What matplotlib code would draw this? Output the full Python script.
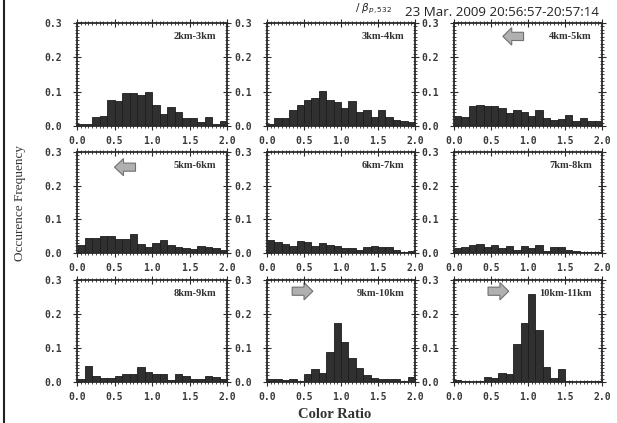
import numpy as np
import matplotlib
matplotlib.use('Agg')
from matplotlib import pyplot as plt
from matplotlib.ticker import MultipleLocator
from matplotlib.lines import Line2D
from matplotlib.patches import FancyArrow

# bin edges of every histogram: 0.0 .. 2.0 step 0.1
bin_left = [round(0.1 * i, 1) for i in range(20)]

labels = ['2km-3km', '3km-4km', '4km-5km',
          '5km-6km', '6km-7km', '7km-8km',
          '8km-9km', '9km-10km', '10km-11km']

h_2_3 = [0.006, 0.006, 0.026, 0.030, 0.075, 0.072, 0.095, 0.095, 0.090, 0.100,
         0.062, 0.035, 0.054, 0.040, 0.023, 0.022, 0.012, 0.026, 0.007, 0.016]
h_3_4 = [0.006, 0.022, 0.022, 0.046, 0.062, 0.077, 0.083, 0.103, 0.075, 0.069,
         0.052, 0.072, 0.042, 0.046, 0.026, 0.048, 0.027, 0.017, 0.015, 0.011]
h_4_5 = [0.028, 0.025, 0.057, 0.060, 0.059, 0.057, 0.053, 0.037, 0.048, 0.042,
         0.028, 0.048, 0.022, 0.018, 0.020, 0.033, 0.016, 0.022, 0.014, 0.014]
h_5_6 = [0.023, 0.045, 0.045, 0.050, 0.050, 0.041, 0.043, 0.055, 0.026, 0.019,
         0.031, 0.039, 0.023, 0.019, 0.014, 0.012, 0.021, 0.017, 0.015, 0.010]
h_6_7 = [0.039, 0.032, 0.027, 0.021, 0.037, 0.033, 0.021, 0.031, 0.023, 0.021,
         0.014, 0.014, 0.010, 0.019, 0.021, 0.019, 0.017, 0.008, 0.004, 0.006]
h_7_8 = [0.016, 0.017, 0.023, 0.027, 0.017, 0.023, 0.014, 0.021, 0.010, 0.021,
         0.016, 0.023, 0.006, 0.017, 0.019, 0.008, 0.006, 0.002, 0.004, 0.002]
h_8_9 = [0.010, 0.048, 0.017, 0.013, 0.012, 0.017, 0.024, 0.024, 0.043, 0.029,
         0.025, 0.025, 0.007, 0.025, 0.017, 0.010, 0.010, 0.017, 0.016, 0.008]
h_9_10 = [0.010, 0.010, 0.006, 0.010, 0.002, 0.024, 0.037, 0.027, 0.087, 0.173,
          0.117, 0.070, 0.041, 0.021, 0.012, 0.010, 0.010, 0.010, 0.004, 0.014]
h_10_11 = [0.006, 0.002, 0.000, 0.002, 0.014, 0.012, 0.027, 0.023, 0.112, 0.173,
           0.258, 0.153, 0.045, 0.012, 0.037, 0.002, 0.000, 0.002, 0.002, 0.004]
hists = [h_2_3, h_3_4, h_4_5, h_5_6, h_6_7, h_7_8, h_8_9, h_9_10, h_10_11]

# arrows: panel index -> (x centre, y centre, direction)
arrows = {2: (0.40, 0.87, -1), 3: (0.32, 0.85, -1), 7: (0.24, 0.89, 1), 8: (0.30, 0.89, 1)}

W, H = 617, 423
fig = plt.figure(figsize=(W / 100, H / 100), dpi=100)
fig.patch.set_facecolor('white')

col_left = [77, 267, 454]
col_w = [150, 148, 148]
row_top = [23, 152, 280]
row_bot = [126, 253, 382]

tickfont = dict(family='DejaVu Sans Mono', weight='bold', size=7)
ink = '#2a2a2a'

for k in range(9):
    r, c = divmod(k, 3)
    ax = fig.add_axes([col_left[c] / W, 1 - row_bot[r] / H,
                       col_w[c] / W, (row_bot[r] - row_top[r]) / H])
    ax.bar(bin_left, hists[k], width=0.1, align='edge', color='#303030',
           edgecolor='#1c1c1c', linewidth=0.6)
    ax.set_xlim(0, 2.0)
    ax.set_ylim(0, 0.3)
    ax.xaxis.set_major_locator(MultipleLocator(0.5))
    ax.xaxis.set_minor_locator(MultipleLocator(0.05))
    ax.yaxis.set_major_locator(MultipleLocator(0.1))
    ax.yaxis.set_minor_locator(MultipleLocator(0.01))
    ax.tick_params(which='both', direction='inout', top=True, right=True, colors=ink, width=0.8)
    ax.tick_params(which='major', length=6)
    ax.tick_params(which='minor', length=2.5, width=0.6)
    ax.tick_params(axis='y', pad=8)
    ax.tick_params(axis='x', pad=4)
    ax.set_xticks([0.0, 0.5, 1.0, 1.5, 2.0])
    ax.set_xticklabels(['0.0', '0.5', '1.0', '1.5', '2.0'], **tickfont, color='#3a3a3a')
    ax.set_yticks([0.0, 0.1, 0.2, 0.3])
    ax.set_yticklabels(['0.0', '0.1', '0.2', '0.3'], **tickfont, color='#3a3a3a')
    for s in ax.spines.values():
        s.set_linewidth(1.3)
        s.set_color(ink)
    ax.text(0.93, 0.87, labels[k], transform=ax.transAxes, ha='right', va='center',
            family='Liberation Serif', weight='bold', fontsize=7.5, color='#333333')
    if k in arrows:
        x, y, d = arrows[k]
        ax.add_patch(FancyArrow(x - d * 0.07, y, d * 0.14, 0, width=0.08,
                                head_width=0.17, head_length=0.06,
                                length_includes_head=True, transform=ax.transAxes,
                                fc='#b0b0b0', ec='#707070', lw=0.8))

fig.text(20 / W, 1 - 203 / H, 'Occurence Frequency', rotation=90, ha='center', va='center',
         family='Liberation Serif', fontsize=9.5, color='#333333')
fig.text(335 / W, 1 - 414 / H, 'Color Ratio', ha='center', va='center',
         family='Liberation Serif', weight='bold', fontsize=10.5, color='#333333')
fig.text(405 / W, 1 - 16 / H, '23 Mar. 2009 20:56:57-20:57:14', ha='left', va='baseline',
         family='Open Sans', fontsize=9.6, color='#222222')
fig.text(355 / W, 1 - 11 / H, r'$/\ \beta_{p,532}$', ha='left', va='baseline',
         fontsize=7.5, color='#222222')
fig.add_artist(Line2D([4 / W, 4 / W], [0, 1], color='#222222', lw=1.5))

fig.savefig('out.png', dpi=100)
